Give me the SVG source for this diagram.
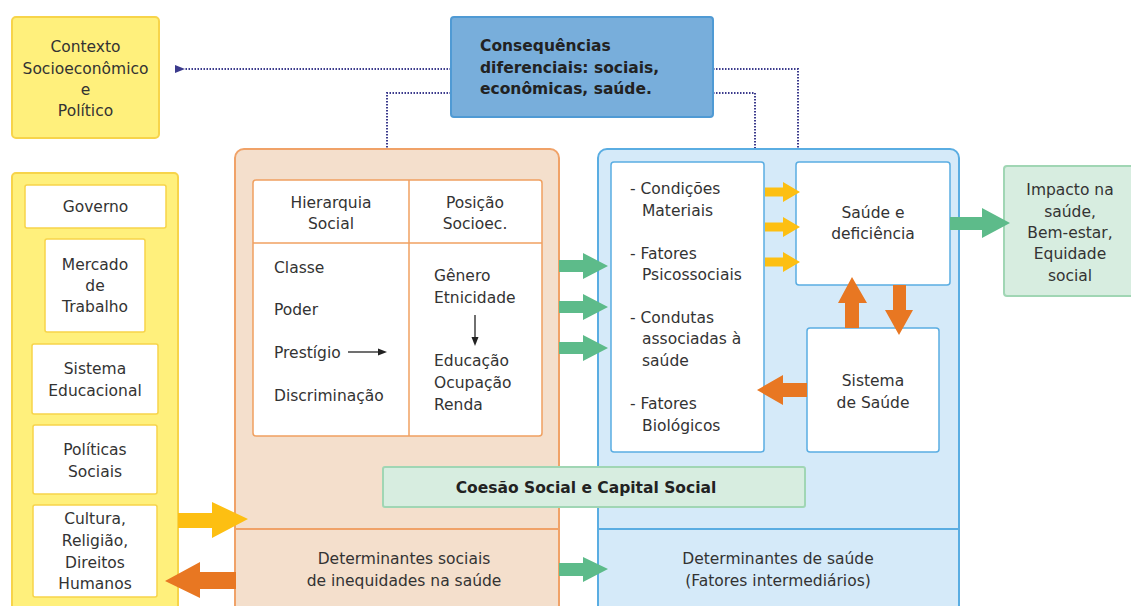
<svg xmlns="http://www.w3.org/2000/svg" width="1131" height="606" viewBox="0 0 1131 606">
<style>
text{font-family:"DejaVu Sans","Verdana",sans-serif;font-size:15.5px;fill:#333}
.c{text-anchor:middle}
.b{font-weight:bold;fill:#222}
.yel{fill:#fff07c;stroke:#f7d44a;stroke-width:2}
.wy{fill:#fff;stroke:#f7d44a;stroke-width:1.5}
.or{fill:#f4dfcc;stroke:#f0a268;stroke-width:2}
.wo{fill:#fff;stroke:#f0a060;stroke-width:1.5}
.bl{fill:#d5eaf9;stroke:#5aade2;stroke-width:2}
.wb{fill:#fff;stroke:#5aade2;stroke-width:1.5}
.gr{fill:#d7ede0;stroke:#a0d6b4;stroke-width:2}
.dot{fill:none;stroke:#3b3a8c;stroke-width:2;stroke-dasharray:1.5 1.5}
.ga{fill:#5dbb8a}
.ya{fill:#fdbf12}
.oa{fill:#e87722}
</style>
<defs>
<marker id="dh" markerWidth="10" markerHeight="8" refX="1" refY="4" orient="auto" markerUnits="userSpaceOnUse">
<path d="M0,4 L10,0 L10,8 Z" fill="#3b3a8c"/>
</marker>
</defs>

<g id="connectors">
<path class="dot" d="M451,69 H184" marker-end="url(#dh)"/>
<path class="dot" d="M451,93 H387 V149"/>
<path class="dot" d="M713,69 H798 V149"/>
<path class="dot" d="M713,93 H755 V149"/>
</g>

<g id="contexto">
<rect class="yel" x="12" y="17" width="147" height="121" rx="4"/>
<text class="c" x="85.5" y="52">Contexto</text>
<text class="c" x="85.5" y="74">Socioeconômico</text>
<text class="c" x="85.5" y="95">e</text>
<text class="c" x="85.5" y="116">Político</text>
</g>

<g id="consequencias">
<rect x="451" y="17" width="262" height="100" rx="3" fill="#78aedb" stroke="#4f9ad4" stroke-width="2"/>
<text class="b" x="480" y="51">Consequências</text>
<text class="b" x="480" y="73">diferenciais: sociais,</text>
<text class="b" x="480" y="94">econômicas, saúde.</text>
</g>

<g id="estrutura">
<rect class="yel" x="12" y="173" width="166" height="450" rx="4"/>
<rect class="wy" x="25" y="185" width="141" height="43" rx="2"/>
<text class="c" x="95.5" y="212">Governo</text>
<rect class="wy" x="45" y="239" width="100" height="93" rx="2"/>
<text class="c" x="95" y="270">Mercado</text>
<text class="c" x="95" y="291">de</text>
<text class="c" x="95" y="312">Trabalho</text>
<rect class="wy" x="32" y="344" width="126" height="70" rx="2"/>
<text class="c" x="95" y="374">Sistema</text>
<text class="c" x="95" y="396">Educacional</text>
<rect class="wy" x="33" y="425" width="124" height="69" rx="2"/>
<text class="c" x="95" y="455">Políticas</text>
<text class="c" x="95" y="477">Sociais</text>
<rect class="wy" x="33" y="505" width="124" height="92" rx="2"/>
<text class="c" x="95" y="524">Cultura,</text>
<text class="c" x="95" y="546">Religião,</text>
<text class="c" x="95" y="568">Direitos</text>
<text class="c" x="95" y="589">Humanos</text>
</g>

<g id="determinantes-sociais">
<rect class="or" x="235" y="149" width="324" height="480" rx="9"/>
<line x1="235" y1="529" x2="559" y2="529" stroke="#f0a268" stroke-width="2"/>
<text class="c" x="404" y="564">Determinantes sociais</text>
<text class="c" x="404" y="586">de inequidades na saúde</text>
<rect class="wo" x="253" y="180" width="289" height="256" rx="3"/>
<line x1="409" y1="180" x2="409" y2="436" stroke="#f0a060" stroke-width="1.5"/>
<line x1="253" y1="243" x2="542" y2="243" stroke="#f0a060" stroke-width="1.5"/>
<text class="c" x="331" y="208">Hierarquia</text>
<text class="c" x="331" y="229">Social</text>
<text class="c" x="475" y="208">Posição</text>
<text class="c" x="475" y="229">Socioec.</text>
<text x="274" y="273">Classe</text>
<text x="274" y="315">Poder</text>
<text x="274" y="358">Prestígio</text>
<text x="274" y="401">Discriminação</text>
<line x1="348" y1="352" x2="380" y2="352" stroke="#222" stroke-width="1.3"/>
<path d="M387,352 L378,348.5 L378,355.5 Z" fill="#222"/>
<text x="434" y="281">Gênero</text>
<text x="434" y="303">Etnicidade</text>
<line x1="475" y1="315" x2="475" y2="339" stroke="#222" stroke-width="1.3"/>
<path d="M475,346 L471.5,337 L478.5,337 Z" fill="#222"/>
<text x="434" y="366">Educação</text>
<text x="434" y="388">Ocupação</text>
<text x="434" y="410">Renda</text>
</g>

<g id="determinantes-saude">
<rect class="bl" x="598" y="149" width="361" height="480" rx="9"/>
<line x1="598" y1="529" x2="959" y2="529" stroke="#5aade2" stroke-width="2"/>
<text class="c" x="778" y="564">Determinantes de saúde</text>
<text class="c" x="778" y="586">(Fatores intermediários)</text>
</g>

<g id="fatores">
<rect class="wb" x="611" y="162" width="153" height="290" rx="3"/>
<text x="630" y="194">- Condições</text>
<text x="642" y="216">Materiais</text>
<text x="630" y="259">- Fatores</text>
<text x="642" y="280">Psicossociais</text>
<text x="630" y="323">- Condutas</text>
<text x="642" y="344">associadas à</text>
<text x="642" y="366">saúde</text>
<text x="630" y="409">- Fatores</text>
<text x="642" y="431">Biológicos</text>
</g>

<g id="saude-deficiencia">
<rect class="wb" x="796" y="162" width="154" height="123" rx="3"/>
<text class="c" x="873" y="218">Saúde e</text>
<text class="c" x="873" y="239">deficiência</text>
</g>

<g id="sistema-saude">
<rect class="wb" x="807" y="328" width="132" height="124" rx="3"/>
<text class="c" x="873" y="386">Sistema</text>
<text class="c" x="873" y="408">de Saúde</text>
</g>

<g id="impacto">
<rect class="gr" x="1004" y="166" width="140" height="130" rx="3"/>
<text class="c" x="1070" y="195">Impacto na</text>
<text class="c" x="1070" y="217">saúde,</text>
<text class="c" x="1070" y="238">Bem-estar,</text>
<text class="c" x="1070" y="259">Equidade</text>
<text class="c" x="1070" y="281">social</text>
</g>

<g id="coesao">
<rect class="gr" x="383" y="467" width="422" height="40" rx="2"/>
<text class="c b" x="586" y="493">Coesão Social e Capital Social</text>
</g>

<g id="block-arrows">
<path class="ya" d="M178,513 H212 V502 L248,519 L212,538 V528 H178 Z"/>
<path class="oa" d="M236,572 H200 V562 L165,581 L200,598 V589 H236 Z"/>
<path class="ga" d="M559,260 H583 V253 L608,266 L583,279 V272 H559 Z"/>
<path class="ga" d="M559,301 H583 V294 L608,307 L583,320 V313 H559 Z"/>
<path class="ga" d="M559,342 H583 V335 L608,348 L583,361 V354 H559 Z"/>
<path class="ga" d="M559,563 H583 V557 L608,569 L583,582 V576 H559 Z"/>
<path class="ya" d="M765,187.5 H783 V182 L800,192 L783,202 V196.5 H765 Z"/>
<path class="ya" d="M765,222.5 H783 V217 L800,227 L783,237 V231.5 H765 Z"/>
<path class="ya" d="M765,257.5 H783 V252 L800,262 L783,272 V266.5 H765 Z"/>
<path class="oa" d="M845,328 V303 H838 L852,277 L867,303 H859 V328 Z"/>
<path class="oa" d="M893,285 V310 H885 L899,335 L913,310 H906 V285 Z"/>
<path class="oa" d="M807,383 H783 V375 L757,390 L783,405 V397 H807 Z"/>
<path class="ga" d="M950,217 H982 V208 L1010,223 L982,238 V230 H950 Z"/>
</g>
</svg>
